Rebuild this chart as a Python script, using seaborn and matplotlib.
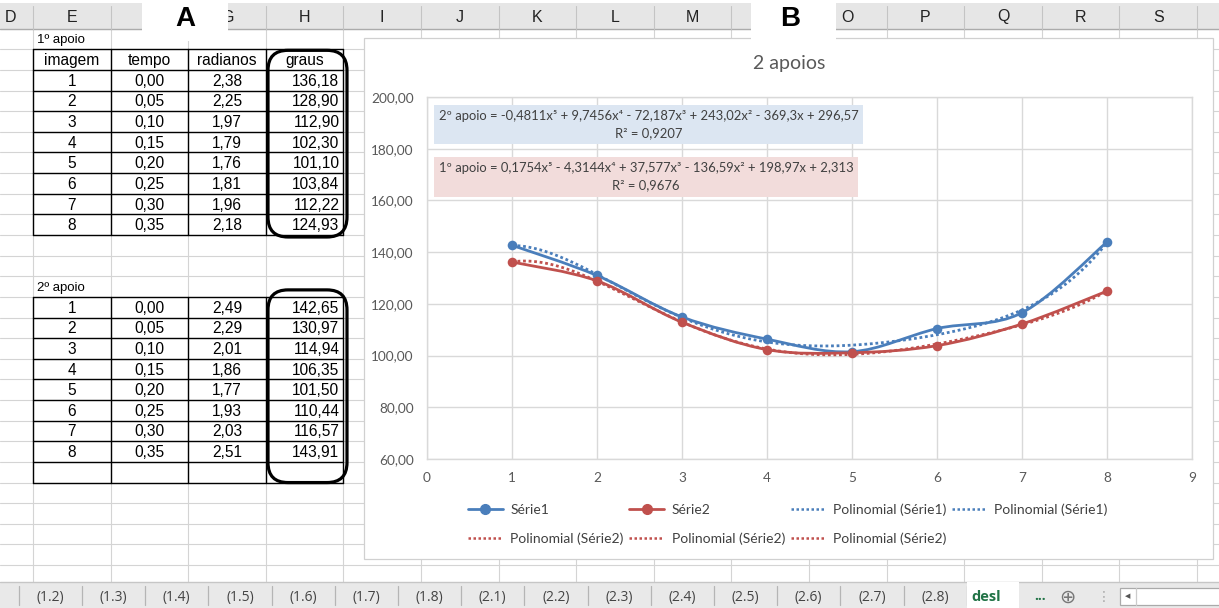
import numpy as np
import matplotlib
matplotlib.use("Agg")
import matplotlib.pyplot as plt
import seaborn as sns
from matplotlib.path import Path
from matplotlib.patches import PathPatch, Rectangle, FancyBboxPatch
from matplotlib.lines import Line2D

# ---- worksheet data -------------------------------------------------------
imagem = [1, 2, 3, 4, 5, 6, 7, 8]
tempo = [0.00, 0.05, 0.10, 0.15, 0.20, 0.25, 0.30, 0.35]
radianos_1 = [2.38, 2.25, 1.97, 1.79, 1.76, 1.81, 1.96, 2.18]
graus_1 = [136.18, 128.90, 112.90, 102.30, 101.10, 103.84, 112.22, 124.93]
radianos_2 = [2.49, 2.29, 2.01, 1.86, 1.77, 1.93, 2.03, 2.51]
graus_2 = [142.65, 130.97, 114.94, 106.35, 101.50, 110.44, 116.57, 143.91]

table_headers = ["imagem", "tempo", "radianos", "graus"]
col_letters = ["E", "F", "G", "H", "I", "J", "K", "L", "M", "N", "O", "P", "Q", "R", "S"]
sheet_tabs = ["(1.2)", "(1.3)", "(1.4)", "(1.5)", "(1.6)", "(1.7)", "(1.8)",
              "(2.1)", "(2.2)", "(2.3)", "(2.4)", "(2.5)", "(2.6)", "(2.7)", "(2.8)"]

chart_title = "2 apoios"
eq_serie1 = "2º apoio = -0,4811x⁵ + 9,7456x⁴ - 72,187x³ + 243,02x² - 369,3x + 296,57"
r2_serie1 = "R² = 0,9207"
eq_serie2 = "1º apoio = 0,1754x⁵ - 4,3144x⁴ + 37,577x³ - 136,59x² + 198,97x + 2,313"
r2_serie2 = "R² = 0,9676"
y_ticks = [60, 80, 100, 120, 140, 160, 180, 200]
x_ticks = [0, 1, 2, 3, 4, 5, 6, 7, 8, 9]
trend_degree = 5

BLUE = "#4a7ebb"
RED = "#c0504d"
GRID = "#d9d9d9"
CELL_FONT = ["Liberation Sans", "DejaVu Sans"]
CHART_FONT = ["Lato", "DejaVu Sans"]
UI_FONT = ["Open Sans", "DejaVu Sans"]


def br(v):
    return f"{v:.2f}".replace(".", ",")


def smooth_path(x, y, t=1 / 6):
    """Bezier path through the points (Catmull-Rom style smoothing)."""
    x = np.asarray(x, float)
    y = np.asarray(y, float)
    n = len(x)
    verts = [(x[0], y[0])]
    codes = [Path.MOVETO]
    for i in range(n - 1):
        p0 = np.array([x[max(i - 1, 0)], y[max(i - 1, 0)]])
        p1 = np.array([x[i], y[i]])
        p2 = np.array([x[i + 1], y[i + 1]])
        p3 = np.array([x[min(i + 2, n - 1)], y[min(i + 2, n - 1)]])
        c1 = p1 + (p2 - p0) * t
        c2 = p2 - (p3 - p1) * t
        verts += [tuple(c1), tuple(c2), tuple(p2)]
        codes += [Path.CURVE4] * 3
    return Path(verts, codes)


sns.set_style("white")
W, H = 1219, 608
fig = plt.figure(figsize=(W / 100, H / 100), dpi=100)
bg = fig.add_axes([0, 0, 1, 1])
bg.set_xlim(0, W)
bg.set_ylim(H, 0)
bg.axis("off")

# ---- spreadsheet grid -----------------------------------------------------
col_x0, col_w = 33.0, 77.6
row_y0, row_h = 28.7, 20.63
tab_top = 582
col_edges = [col_x0 + col_w * k for k in range(16)]
row_edges = [row_y0 + row_h * k for k in range(28) if row_y0 + row_h * k < tab_top]

for y in row_edges:
    bg.plot([0, W], [y, y], color="#d4d4d4", lw=0.8, zorder=1)
for x in col_edges:
    bg.plot([x, x], [row_y0, tab_top], color="#d4d4d4", lw=0.8, zorder=1)

# column header band
bg.add_patch(Rectangle((0, 3), W, row_y0 - 3, fc="#e6e6e6", ec="none", zorder=2))
bg.plot([0, W], [row_y0, row_y0], color="#ababab", lw=1.0, zorder=3)
for x in col_edges:
    bg.plot([x, x], [6, row_y0], color="#c4c4c4", lw=0.8, zorder=3)
bg.text(10, 17, "D", ha="center", va="center", fontsize=11.5, family=CELL_FONT, color="#222222", zorder=3)
for k, letter in enumerate(col_letters):
    bg.text(col_edges[k] + col_w / 2, 17, letter, ha="center", va="center",
            fontsize=11.5, family=CELL_FONT, color="#222222", zorder=3)

# panel labels
bg.add_patch(Rectangle((142, 3), 86, 38, fc="white", ec="none", zorder=4))
bg.text(185, 19, "A", ha="center", va="center", fontsize=20, fontweight="bold",
        family=CELL_FONT, color="black", zorder=5)

# ---- data tables ------------------------------------------------------------
def draw_table(top_row, rows, blank_rows=0):
    n = len(rows) + blank_rows
    y_top = row_y0 + row_h * top_row
    y_bot = y_top + row_h * n
    for k in range(n + 1):
        y = y_top + row_h * k
        bg.plot([col_edges[0], col_edges[4]], [y, y], color="black", lw=1.0, zorder=3)
    for x in col_edges[:5]:
        bg.plot([x, x], [y_top, y_bot], color="black", lw=1.0, zorder=3)
    for r, cells in enumerate(rows):
        yc = y_top + row_h * (r + 0.5) + 1
        for c, txt in enumerate(cells):
            if c == 3 and txt[0].isdigit():
                bg.text(col_edges[4] - 4, yc, txt, ha="right", va="center",
                        fontsize=11.2, family=CELL_FONT, color="black", zorder=4)
            else:
                bg.text((col_edges[c] + col_edges[c + 1]) / 2, yc, txt, ha="center",
                        va="center", fontsize=11.2, family=CELL_FONT, color="black", zorder=4)
    return y_top, y_bot


bg.text(37, row_y0 + row_h * 0.5 + 1, "1º apoio", ha="left", va="center", fontsize=9.5,
        family=CELL_FONT, color="black", zorder=4)
rows1 = [table_headers] + [[str(i), br(t), br(r), br(g)]
                           for i, t, r, g in zip(imagem, tempo, radianos_1, graus_1)]
t1_top, t1_bot = draw_table(1, rows1)

bg.text(37, row_y0 + row_h * 12.5 + 1, "2º apoio", ha="left", va="center", fontsize=9.5,
        family=CELL_FONT, color="black", zorder=4)
rows2 = [[str(i), br(t), br(r), br(g)]
         for i, t, r, g in zip(imagem, tempo, radianos_2, graus_2)]
t2_top, t2_bot = draw_table(13, rows2, blank_rows=1)

# rounded outlines around the "graus" column
for y_a, y_b in [(t1_top + 1, t1_bot + 2), (t2_top - 7, t2_bot)]:
    bg.add_patch(FancyBboxPatch((268, y_a), 79, y_b - y_a,
                                boxstyle="round,pad=0,rounding_size=20",
                                fc="none", ec="black", lw=2.3, zorder=6))

# ---- chart frame ----------------------------------------------------------------
bg.add_patch(Rectangle((364, 38), 1213 - 364, 559 - 38, fc="white", ec="#d0d0d0",
                       lw=0.9, zorder=7))
bg.add_patch(Rectangle((751, 3), 85, 38, fc="white", ec="none", zorder=8))
bg.text(790, 19, "B", ha="center", va="center", fontsize=20, fontweight="bold",
        family=CELL_FONT, color="black", zorder=9)
bg.text(789, 64, chart_title, ha="center", va="center", fontsize=14,
        family=CHART_FONT, color="#595959", zorder=9)

# ---- sheet tab bar ---------------------------------------------------------------
bg.add_patch(Rectangle((0, tab_top), W, H - tab_top, fc="#e9e9e9", ec="none", zorder=10))
bg.plot([0, W], [tab_top, tab_top], color="#c6c6c6", lw=1.0, zorder=11)
tab_x0, tab_w = 18.7, 63.2
for k in range(len(sheet_tabs) + 1):
    x = tab_x0 + tab_w * k
    bg.plot([x, x], [tab_top + 4, H - 3], color="#b5b5b5", lw=0.9, zorder=11)
for k, name in enumerate(sheet_tabs):
    bg.text(tab_x0 + tab_w * (k + 0.5), 597, name, ha="center", va="center",
            fontsize=10, family=UI_FONT, color="#444444", zorder=11)
act_x = tab_x0 + tab_w * len(sheet_tabs)
bg.add_patch(Rectangle((act_x, tab_top), 52, H - tab_top, fc="white", ec="none", zorder=11))
bg.text(act_x + 5, 597, "desl", ha="left", va="center", fontsize=10.5, fontweight="bold",
        family=UI_FONT, color="#217346", zorder=12)
bg.text(1040, 596, "...", ha="center", va="center", fontsize=10, fontweight="bold",
        family=UI_FONT, color="#217346", zorder=12)
bg.text(1067, 597, "⊕", ha="center", va="center", fontsize=14, family=["DejaVu Sans"],
        color="#777777", zorder=12)
bg.text(1104, 597, "⋮", ha="center", va="center", fontsize=10, family=["DejaVu Sans"],
        color="#aaaaaa", zorder=12)
bg.add_patch(Rectangle((1120, 588), 110, 17, fc="white", ec="#aaaaaa", lw=0.9, zorder=12))
bg.plot([1136, 1136], [588, 605], color="#cccccc", lw=0.9, zorder=13)
bg.text(1128, 596.5, "◀", ha="center", va="center", fontsize=5, family=["DejaVu Sans"],
        color="#555555", zorder=13)

# ---- chart plot area ------------------------------------------------------------
px_l, px_r, px_t, px_b = 427, 1192, 97, 459
ax = fig.add_axes([px_l / W, (H - px_b) / H, (px_r - px_l) / W, (px_b - px_t) / H])
ax.set_zorder(20)
ax.set_xlim(0, 9)
ax.set_ylim(60, 200)
ax.set_xticks(x_ticks)
ax.set_yticks(y_ticks)
ax.set_xticklabels([str(v) for v in x_ticks])
ax.set_yticklabels([br(v) for v in y_ticks])
ax.grid(True, color=GRID, lw=1.0)
ax.set_axisbelow(True)
for s in ax.spines.values():
    s.set_color(GRID)
    s.set_linewidth(1.0)
ax.tick_params(length=0, labelsize=9.8, labelcolor="#595959")
ax.tick_params(axis="x", pad=9)
ax.tick_params(axis="y", pad=9.5)
for lab in ax.get_xticklabels() + ax.get_yticklabels():
    lab.set_family(CHART_FONT)
ax.set_xlabel("")
ax.set_ylabel("")

# polynomial trendlines (least-squares fit of the series)
xs = np.linspace(1, 8, 300)
for vals, color in [(graus_2, BLUE), (graus_1, RED)]:
    coef = np.polyfit(imagem, vals, trend_degree)
    sns.lineplot(x=xs, y=np.polyval(coef, xs), ax=ax, color=color, lw=2.0,
                 linestyle=(0, (1, 1)), zorder=3)

# smoothed data series with markers
for vals, color in [(graus_2, BLUE), (graus_1, RED)]:
    ax.add_patch(PathPatch(smooth_path(imagem, vals), fc="none", ec=color, lw=2.0,
                           capstyle="round", joinstyle="round", zorder=4))
    sns.scatterplot(x=imagem, y=vals, ax=ax, color=color, s=48, edgecolor=color,
                    linewidth=0, zorder=5)

# trendline equation labels
for (x0, x1, y0, y1), fc, l1, l2 in [((434, 863, 105, 144), "#dce6f2", eq_serie1, r2_serie1),
                                     ((434, 858, 157, 197), "#f2dcdb", eq_serie2, r2_serie2)]:
    ax.add_patch(Rectangle((x0, y0), x1 - x0, y1 - y0, transform=bg.transData,
                           fc=fc, ec="none", zorder=6, clip_on=False))
    xc = (x0 + x1) / 2
    ax.text(xc, y0 + 11, l1, transform=bg.transData, ha="center", va="center",
            fontsize=9.4, family=CHART_FONT, color="#404040", zorder=7)
    ax.text(xc, y0 + 28, l2, transform=bg.transData, ha="center", va="center",
            fontsize=9.4, family=CHART_FONT, color="#404040", zorder=7)

# legend (row-wise order in four columns)
h_s1 = Line2D([], [], color=BLUE, lw=2.0, marker="o", ms=7)
h_s2 = Line2D([], [], color=RED, lw=2.0, marker="o", ms=7)
h_p1 = Line2D([], [], color=BLUE, lw=1.8, linestyle=(0, (1, 1)))
h_p2 = Line2D([], [], color=RED, lw=1.8, linestyle=(0, (1, 1)))
handles = [h_s1, h_p2, h_s2, h_p2, h_p1, h_p2, h_p1]
labels = ["Série1", "Polinomial (Série2)", "Série2", "Polinomial (Série2)",
          "Polinomial (Série1)", "Polinomial (Série2)", "Polinomial (Série1)"]
leg = ax.legend(handles, labels, ncol=4, loc="upper left",
                bbox_to_anchor=(468, 503.5), bbox_transform=bg.transData,
                frameon=False, borderpad=0, borderaxespad=0, handlelength=2.5,
                handletextpad=0.55, columnspacing=0.4, labelspacing=1.18,
                prop={"family": CHART_FONT, "size": 10})
for t in leg.get_texts():
    t.set_color("#404040")

fig.savefig("out.png", dpi=100)
